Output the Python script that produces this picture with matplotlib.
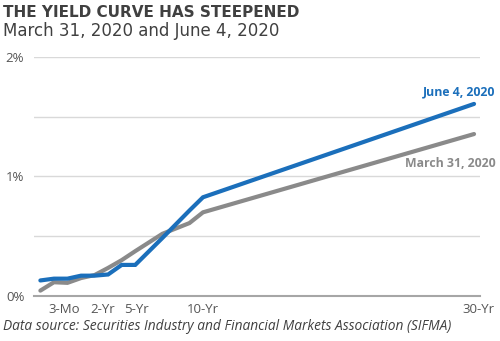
import matplotlib
matplotlib.use("Agg")
import matplotlib.pyplot as plt

# treasury curve, positions along the maturity axis
x_pos = [-2, -1, 0, 1, 2, 3, 4, 5, 7, 9, 10, 30]
june_4 = [0.13, 0.145, 0.145, 0.17, 0.17, 0.18, 0.26, 0.26, 0.485, 0.715, 0.826, 1.607]
march_31 = [0.045, 0.115, 0.11, 0.15, 0.175, 0.235, 0.30, 0.375, 0.52, 0.61, 0.70, 1.355]

tick_pos = [-0.25, 2.6, 5.1, 10, 30.3]
tick_labels = ["3-Mo", "2-Yr", "5-Yr", "10-Yr", "30-Yr"]

BLUE = "#1b6fbb"
GREY = "#8a8a8a"
TEXT = "#404040"

plt.rcParams["font.family"] = ["Open Sans", "DejaVu Sans"]

fig = plt.figure(figsize=(5, 3.41), dpi=100)
ax = fig.add_axes([0.068, 0.132, 0.892, 0.701])

ax.plot(x_pos, march_31, color=GREY, lw=3, solid_capstyle="round", solid_joinstyle="miter", zorder=3)
ax.plot(x_pos, june_4, color=BLUE, lw=3, solid_capstyle="round", solid_joinstyle="miter", zorder=4)

ax.set_xlim(-2.47, 30.44)
ax.set_ylim(0, 2)
ax.set_yticks([0, 1, 2])
ax.set_yticklabels(["0%", "1%", "2%"])
for g in [0.5, 1, 1.5, 2]:
    ax.axhline(g, color="#d9d9d9", lw=1, zorder=1)

ax.set_xticks(tick_pos)
ax.set_xticklabels(tick_labels)
ax.tick_params(axis="both", length=0, colors="#555555", labelsize=9.5)
ax.tick_params(axis="x", pad=5)
ax.tick_params(axis="y", pad=7)
for s in ["top", "right", "left"]:
    ax.spines[s].set_visible(False)
ax.spines["bottom"].set_color("#a6a6a6")
ax.spines["bottom"].set_linewidth(1.5)

# series labels at the right end of each line
ax.text(31.6, 1.707, "June 4, 2020", color=BLUE, fontsize=8.8,
        fontweight="bold", ha="right", va="center")
ax.text(31.6, 1.105, "March 31, 2020", color=GREY, fontsize=8.8,
        fontweight="bold", ha="right", va="center")

fig.text(0.006, 0.985, "THE YIELD CURVE HAS STEEPENED", color=TEXT, fontsize=11,
         fontweight="bold", family="DejaVu Sans", ha="left", va="top")
fig.text(0.006, 0.935, "March 31, 2020 and June 4, 2020", color=TEXT, fontsize=12,
         family="DejaVu Sans", ha="left", va="top")
fig.text(0.006, 0.042, "Data source: Securities Industry and Financial Markets Association (SIFMA)",
         color=TEXT, fontsize=9.9, style="italic", ha="left", va="center")

fig.savefig("out.png", dpi=100, facecolor="white")
